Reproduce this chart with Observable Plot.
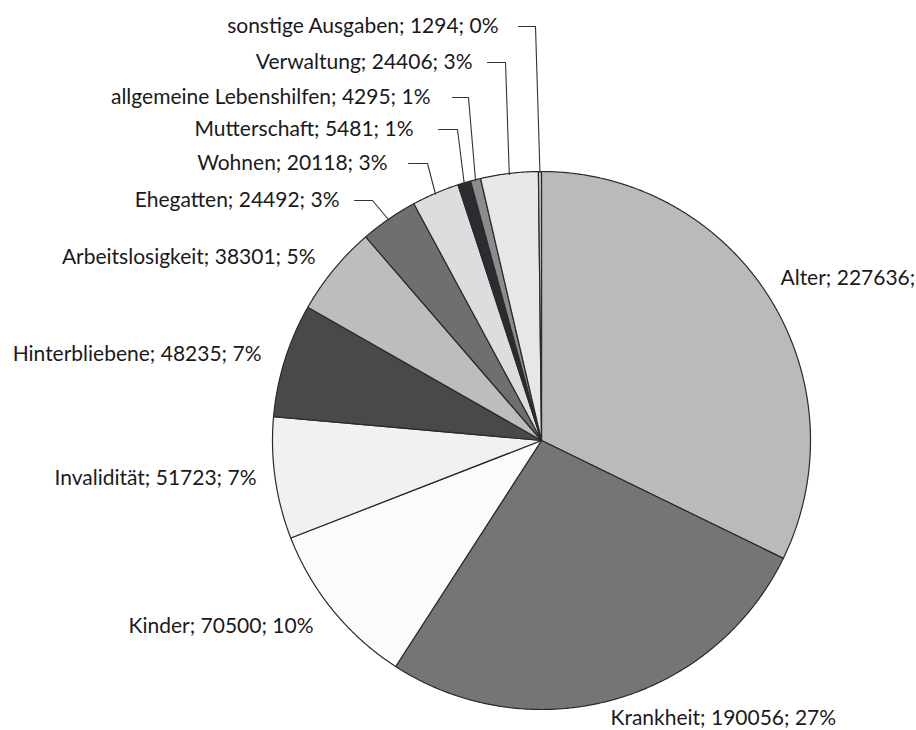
<!DOCTYPE html>
<html>
<head>
<meta charset="utf-8">
<script src="https://cdn.jsdelivr.net/npm/d3@7"></script>
<script src="https://cdn.jsdelivr.net/npm/@observablehq/plot@0.6"></script>
<style>
  html, body { margin: 0; padding: 0; background: #fff; overflow: hidden; }
  svg { overflow: hidden; }
</style>
</head>
<body>
<div id="chart"></div>
<script>
// ---- data ----
const categories = ["Alter", "Krankheit", "Kinder", "Invalidität", "Hinterbliebene", "Arbeitslosigkeit",
  "Ehegatten", "Wohnen", "Mutterschaft", "allgemeine Lebenshilfen", "Verwaltung", "sonstige Ausgaben"];
const values = [227636, 190056, 70500, 51723, 48235, 38301, 24492, 20118, 5481, 4295, 24406, 1294];
const colors = ["#b9babc", "#747577", "#fbfbfb", "#f0f1f0", "#48494b", "#bcbdbf",
  "#6e6f71", "#dcdddf", "#2b2c2f", "#8b8c8e", "#e6e7e9", "#c4c5c7"];
// the Alter label is cut after the value in the reference (percentage not visible)
const showPercent = [false, true, true, true, true, true, true, true, true, true, true, true];

// ---- layout (pixels) ----
const W = 916, H = 730, CX = 541, CY = 440, R = 269;
// label anchor point [x, y, anchor]
const labelPos = [
  [780, 278, "start"], [610, 718, "start"], [313, 626, "end"], [256, 478, "end"],
  [261, 354, "end"], [315, 257, "end"], [339, 200, "end"], [387, 163, "end"],
  [413, 129, "end"], [430, 97, "end"], [472, 62, "end"], [498, 26, "end"]
];
// leader lines: [startX, elbowX] or null
const leaders = [null, null, null, null, null, null,
  [354, 372], [408, 427], [438, 457], [452, 468], [487, 505], [518, 535]];

const total = d3.sum(values);
const pie = d3.pie().sort(null).value(d => d)(values);

const ang = a => [CX + R * Math.sin(a), CY - R * Math.cos(a)];

const slicePts = [];
pie.forEach((p, i) => {
  const cat = categories[i];
  slicePts.push({cat, x: CX, y: CY});
  const n = Math.max(2, Math.ceil((p.endAngle - p.startAngle) / 0.005));
  for (let k = 0; k <= n; k++) {
    const a = p.startAngle + (p.endAngle - p.startAngle) * k / n;
    const [x, y] = ang(a);
    slicePts.push({cat, x, y});
  }
});

const labels = categories.map((c, i) => ({
  text: showPercent[i]
    ? `${c}; ${values[i]}; ${Math.round(values[i] / total * 100)}%`
    : `${c}; ${values[i]};`,
  x: labelPos[i][0], y: labelPos[i][1], anchor: labelPos[i][2]
}));

const leaderPts = [];
pie.forEach((p, i) => {
  const L = leaders[i];
  if (!L) return;
  const y = labelPos[i][1];
  const [ax, ay] = ang((p.startAngle + p.endAngle) / 2);
  leaderPts.push({k: i, x: L[0], y});
  leaderPts.push({k: i, x: L[1], y});
  leaderPts.push({k: i, x: ax, y: ay + 1});
});

const font = "Lato, 'Open Sans', sans-serif";
const FS = 21;

const chart = Plot.plot({
  width: W, height: H,
  margin: 0,
  x: {domain: [0, W], range: [0, W], axis: null},
  y: {domain: [0, H], range: [0, H], axis: null},
  color: {type: "ordinal", domain: categories, range: colors},
  style: {fontFamily: font, background: "#fff"},
  marks: [
    Plot.line(slicePts, {x: "x", y: "y", z: "cat", fill: "cat", stroke: "#2a2a2a",
      strokeWidth: 1.2, curve: "linear-closed", strokeLinejoin: "round"}),
    Plot.line(leaderPts, {x: "x", y: "y", z: "k", stroke: "#333", strokeWidth: 1.1}),
    Plot.text(labels.filter(d => d.anchor === "start"), {x: "x", y: "y", text: "text",
      textAnchor: "start", fontSize: FS, fill: "#1a1a1a", fontFamily: font}),
    Plot.text(labels.filter(d => d.anchor === "end"), {x: "x", y: "y", text: "text",
      textAnchor: "end", fontSize: FS, fill: "#1a1a1a", fontFamily: font})
  ]
});
document.getElementById("chart").appendChild(chart);
</script>
</body>
</html>
